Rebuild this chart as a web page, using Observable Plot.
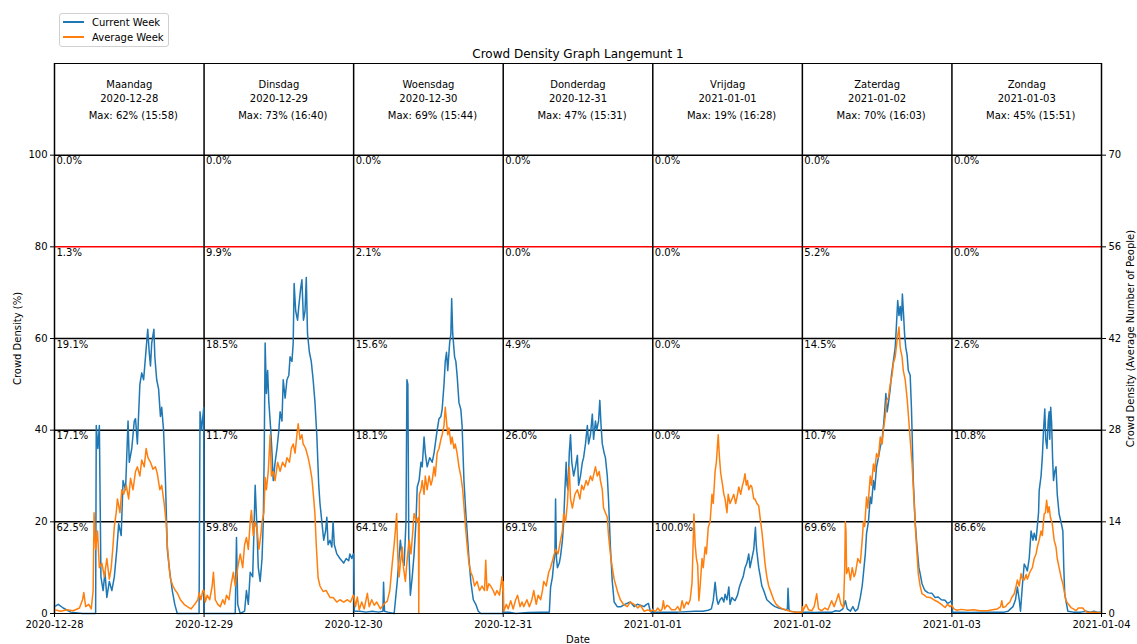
<!DOCTYPE html>
<html>
<head>
<meta charset="utf-8">
<script src="https://cdn.jsdelivr.net/npm/d3@7"></script>
<script src="https://cdn.jsdelivr.net/npm/@observablehq/plot@0.6"></script>
<style>
body{margin:0;background:#fff;font-family:"DejaVu Sans",sans-serif;}
#wrap{position:relative;width:1137px;height:644px;}
#legend{position:absolute;left:59px;top:13px;width:108px;height:32px;border:1px solid #d0d0d0;border-radius:3px;background:rgba(255,255,255,0.85);font-size:10px;color:#000;}
.item{position:absolute;left:3px;height:12px;display:flex;align-items:center;white-space:nowrap;}
.sw{width:21px;height:1.5px;margin-right:8px;}
</style>
</head>
<body>
<div id="wrap">
<div id="chart"></div>
<div id="legend">
<div class="item" style="top:2px"><div class="sw" style="background:#1f77b4"></div>Current Week</div>
<div class="item" style="top:17px"><div class="sw" style="background:#ff7f0e"></div>Average Week</div>
</div>
</div>
<script>
const title = "Crowd Density Graph Langemunt 1";
const dayNames = ["Maandag","Dinsdag","Woensdag","Donderdag","Vrijdag","Zaterdag","Zondag"];
const dateLabels = ["2020-12-28","2020-12-29","2020-12-30","2020-12-31","2021-01-01","2021-01-02","2021-01-03","2021-01-04"];
const maxPct = [62,73,69,47,19,70,45];
const maxTime = ["15:58","16:40","15:44","15:31","16:28","16:03","15:51"];
// share of time per band (band lower bound 100, 80, 60, 40, 20)
const share100 = [0.0,0.0,0.0,0.0,0.0,0.0,0.0];
const share80 = [1.3,9.9,2.1,0.0,0.0,5.2,0.0];
const share60 = [19.1,18.5,15.6,4.9,0.0,14.5,2.6];
const share40 = [17.1,11.7,18.1,26.0,0.0,10.7,10.8];
const share20 = [62.5,59.8,64.1,69.1,100.0,69.6,86.6];
const leftTicks = [0,20,40,60,80,100];
const rightTicks = [0,14,28,42,56,70];

// [hour of day, crowd density %]
const curMon = [[0,1.5],[0.6,2],[1.4,1.2],[2.6,0.3],[4.5,0],[6.6,0],[6.7,41],[6.95,36],[7.2,41],[7.45,8],[7.8,5],[8.1,9],[8.4,3.5],[8.8,7],[9.2,5],[9.6,8],[10.0,14],[10.3,19.6],[10.7,17],[11.0,29],[11.4,27],[11.8,42],[12.0,33],[12.4,36],[12.8,42],[13.0,42.5],[13.3,37],[13.7,50],[14.0,52.5],[14.3,51],[14.6,56],[14.96,62],[15.2,57],[15.4,54],[15.6,59],[15.95,62],[16.1,56],[16.4,51],[16.7,49],[17.0,43],[17.2,45],[17.5,40],[17.8,29],[18.1,14],[18.5,9],[18.9,5],[19.3,2],[19.7,0],[23.2,0],[23.35,44],[23.6,40],[23.95,45]];
const avgMon = [[0,0.8],[1,0.5],[2,0.8],[3,0.6],[4,1.2],[4.5,3],[4.7,4.6],[5.0,1.5],[5.5,2],[5.9,1],[6.2,5],[6.35,22],[6.6,14],[6.9,18],[7.2,10],[7.6,11],[8.0,8],[8.4,12],[8.8,7.5],[9.1,10],[9.4,15],[9.6,19],[9.9,22],[10.1,25],[10.5,22],[10.8,27],[11.1,26],[11.5,28],[11.9,25],[12.2,29.5],[12.6,27],[13.0,31],[13.3,32],[13.7,30],[14.0,33.5],[14.4,32],[14.7,36],[15.0,34],[15.4,33],[15.8,31.5],[16.2,32],[16.5,30.5],[16.9,27],[17.2,28],[17.6,24],[17.9,20],[18.1,15],[18.4,10],[18.6,7.6],[19.0,6],[19.4,5],[19.7,4.5],[20.2,3],[20.8,2],[21.3,1.5],[21.9,1],[22.5,2],[23.0,3],[23.2,4.5],[23.5,3],[23.8,5]];

const curTue = [[0,0],[1,0],[3,0],[5.0,0],[5.2,16.6],[5.4,2],[5.8,0],[6.5,0.5],[6.8,5],[7.1,2],[7.4,9],[7.8,8],[8.2,28],[8.5,18],[8.7,10],[9.0,7],[9.3,12],[9.5,20],[9.65,35],[9.8,59],[10.0,48],[10.2,53],[10.4,46],[10.7,40],[10.9,35],[11.1,29],[11.4,33],[11.7,36],[12.0,40],[12.2,44],[12.5,42],[12.7,51],[13.0,47],[13.3,51],[13.6,52],[13.8,56],[14.1,55],[14.3,59],[14.45,72],[14.7,66],[15.0,64],[15.2,67],[15.5,71],[15.7,72.8],[15.95,64],[16.2,66],[16.4,73.3],[16.6,61],[16.9,57],[17.2,55],[17.5,51],[17.8,46],[18.1,38.6],[18.4,28],[18.6,24],[18.9,20],[19.2,16],[19.5,18],[19.7,21],[19.9,15],[20.2,16],[20.5,14.5],[20.7,20],[20.9,15],[21.3,13],[21.8,12],[22.4,11],[22.8,12],[23.2,11.5],[23.4,13],[23.7,12],[23.95,13]];
const avgTue = [[0,5],[0.2,2.5],[0.5,4],[0.9,3],[1.3,6],[1.5,9],[1.8,3],[2.2,2],[2.6,1.5],[3.0,3],[3.3,2],[3.6,4],[4.0,3],[4.3,6],[4.7,9],[5.0,6],[5.4,10],[5.8,13],[6.2,10],[6.5,15],[6.8,16.6],[7.1,14],[7.4,20],[7.6,22.5],[7.9,17],[8.2,20],[8.5,18.5],[8.8,14],[9.1,17],[9.3,20],[9.6,22],[9.8,29.7],[10.0,27],[10.3,31],[10.6,39],[10.8,30],[11.1,31],[11.4,29],[11.8,33],[12.2,31],[12.6,33],[13.0,32],[13.3,34],[13.7,33],[14.0,36],[14.3,37],[14.6,35],[14.9,39],[15.1,41.4],[15.4,38],[15.7,39],[15.9,37],[16.3,36],[16.7,34],[17.0,32],[17.3,29.5],[17.6,25],[17.8,21.5],[18.0,15],[18.3,7.8],[18.6,6],[19.1,4.8],[19.6,5],[20.2,3.5],[20.7,3.5],[21.3,2.5],[21.8,3],[22.4,2.5],[23.0,3],[23.5,2.5],[23.95,4]];

const curWed = [[0,13],[0.1,0.5],[1,0.5],[2,0.3],[3,0.5],[4,0.3],[4.7,0.5],[4.8,6.8],[4.95,0.5],[5.5,0.3],[6.5,0],[7.0,7],[7.5,16],[7.8,12],[8.1,10.5],[8.4,20],[8.55,51],[8.7,50],[8.85,15],[9.1,4],[9.4,8],[9.7,13],[10.0,20],[10.2,27.6],[10.5,29],[10.8,33],[11.0,32],[11.3,38.5],[11.5,35],[11.8,32],[12.2,34],[12.6,33],[12.9,35],[13.1,37],[13.4,40],[13.7,42.5],[14.0,43],[14.2,44.5],[14.5,50],[14.7,55],[14.9,57],[15.1,53],[15.4,59],[15.6,61],[15.73,68.7],[15.9,61],[16.2,56],[16.4,55],[16.6,52],[16.9,46],[17.2,44.5],[17.4,41],[17.7,29],[18.0,22],[18.2,18],[18.5,12],[18.8,7],[19.2,3],[19.6,2],[20.0,0.5],[20.4,0],[22,0],[23.95,0]];
const avgWed = [[0,4],[0.3,1.5],[0.6,3.6],[0.9,0.8],[1.3,2.5],[1.7,1],[2.2,4.4],[2.5,1.5],[2.9,3],[3.3,1.8],[3.7,2.5],[4.3,1],[4.8,2],[5.4,2.7],[5.8,5],[6.0,8],[6.2,11],[6.5,15],[6.75,19],[6.9,21.8],[7.1,12],[7.3,8],[7.5,11],[7.8,14.5],[8.0,10],[8.3,7],[8.6,12],[8.9,16],[9.2,13],[9.5,18],[9.7,21.8],[10.1,20],[10.4,21],[10.45,0],[10.55,26],[10.8,27],[11.0,29],[11.3,26],[11.5,30],[11.8,27],[12.1,30],[12.4,28],[12.6,29],[12.9,32],[13.1,30],[13.4,35],[13.7,36],[14.0,38],[14.2,39],[14.5,41],[14.7,45],[14.9,42],[15.1,39],[15.3,40.5],[15.6,37],[15.8,38.5],[16.1,36],[16.3,37],[16.6,35],[16.9,32],[17.2,30],[17.5,27],[17.7,23.5],[18.0,18],[18.2,15],[18.5,11],[18.8,9],[19.1,8],[19.4,6],[19.8,7],[20.2,5],[20.6,6],[21.0,5],[21.2,11.6],[21.4,5],[21.7,6.5],[22.0,6],[22.4,5],[22.7,4],[23.0,5],[23.4,4],[23.6,6],[23.8,8],[23.95,5]];

const curThu = [[0,0.3],[1,0.3],[2,0],[4,0.2],[6,0.3],[7.4,0.3],[7.6,5.7],[7.9,8],[8.1,11],[8.3,13],[8.4,25],[8.55,12],[8.7,10],[9.0,11],[9.2,12.5],[9.5,16],[9.7,20],[9.9,27],[10.1,33],[10.25,28],[10.4,27],[10.6,35],[10.8,39],[11.0,33],[11.3,30],[11.6,32],[11.9,34.5],[12.1,28],[12.4,30],[12.7,33],[12.9,34],[13.2,37],[13.5,41],[13.7,37],[14.0,39],[14.3,43.5],[14.5,38],[14.8,42],[15.0,40],[15.3,42],[15.5,46.5],[15.7,41],[15.9,37],[16.2,35],[16.4,34],[16.7,30],[16.9,24.8],[17.2,14.5],[17.5,7],[17.8,2.5],[18.3,1.5],[18.9,1.5],[19.5,2],[20.4,2.5],[21.0,1.5],[21.5,2],[22,1.8],[22.6,1.5],[23.0,2],[23.3,2.2],[23.6,0.5],[23.95,0]];
const avgThu = [[0,7],[0.1,0.5],[0.5,2],[0.8,1],[1.2,2.8],[1.6,1],[2.0,3],[2.3,4],[2.7,1.5],[3.0,2.5],[3.3,1.5],[3.8,3],[4.2,1.5],[4.6,3],[4.9,5],[5.3,2],[5.6,4],[6.0,3],[6.3,5],[6.5,7],[6.9,6],[7.3,9],[7.6,10],[8.0,12],[8.4,14],[8.8,13],[9.2,16],[9.5,18],[9.7,21.8],[10.0,20],[10.3,24],[10.6,32],[10.8,25],[11.1,23],[11.5,26],[11.9,27],[12.3,25],[12.6,28],[12.9,27],[13.3,29],[13.6,28],[14.0,30],[14.3,29],[14.8,32],[15.1,30],[15.4,31],[15.6,29],[15.9,27],[16.1,23],[16.4,22],[16.7,21],[16.9,17],[17.2,13],[17.5,10],[17.8,7.5],[18.0,6.5],[18.4,4.5],[18.8,3],[19.3,2],[19.9,1.5],[20.4,2.5],[21.0,2],[21.6,1.2],[22.0,1.8],[22.6,0.5],[23.2,0.8],[23.7,0.5],[23.95,0.8]];

const curFri = [[0,1],[0.2,0.3],[2,0.3],[4,0.3],[6.8,0.5],[8.0,0.5],[8.9,0.7],[9.4,1],[9.7,2.8],[10.0,6.8],[10.3,3],[10.5,2],[10.8,3],[11.1,3.5],[11.4,2.5],[11.6,4.2],[11.9,3],[12.2,5.8],[12.4,2],[12.7,3.5],[13.0,3],[13.2,2.8],[13.6,4],[13.9,5.8],[14.2,7],[14.5,8],[14.8,10],[15.1,11],[15.4,13],[15.6,10],[15.9,12],[16.2,14],[16.47,18.8],[16.6,15],[16.7,13.5],[17.0,10],[17.2,8.5],[17.5,6],[17.8,5],[18.3,3],[18.7,2.5],[19.1,2],[19.6,1.5],[20.2,1.2],[20.8,1],[21.3,0.8],[21.6,1],[21.7,5.5],[21.85,1],[22.0,0.5],[23.0,0.3],[23.95,0.3]];
const avgFri = [[0,0.8],[0.4,0.4],[0.8,1.2],[1.2,0.5],[1.5,1],[1.7,2.8],[1.9,1],[2.3,1.8],[2.6,1.5],[3.0,0.8],[3.6,0.8],[4.0,1.5],[4.4,0.5],[4.7,2.8],[5.0,1.2],[5.4,2.5],[5.7,2],[6.0,3],[6.3,6.8],[6.45,14],[6.6,21.7],[6.8,15],[7.0,12],[7.2,10.6],[7.4,2.8],[7.6,6],[7.9,12],[8.1,10],[8.4,14.5],[8.6,13],[8.9,18.8],[9.2,20],[9.5,26],[9.7,24],[10.0,31],[10.2,33],[10.4,37],[10.5,39],[10.7,34],[10.9,30.6],[11.2,28],[11.4,26],[11.6,25],[11.9,22],[12.1,26],[12.4,24],[12.7,25],[13.0,26],[13.3,24],[13.6,26],[13.8,27.6],[14.1,26],[14.4,28],[14.6,29],[14.8,30.5],[15.0,28],[15.2,29],[15.4,27],[15.7,28],[15.9,27.6],[16.2,25],[16.4,25],[16.7,24],[17.0,23.5],[17.3,20],[17.5,18],[17.8,14],[18.0,11],[18.3,8],[18.6,6],[19.0,4.5],[19.4,3],[19.8,2],[20.2,1.5],[20.8,1],[21.3,0.8],[22.0,0.5],[22.9,0.3],[23.95,0.3]];

const curSat = [[0,0.3],[1,0.3],[2,0.2],[3,0.3],[4.8,0.3],[5.3,0.6],[6.0,0.5],[6.5,1],[6.9,2.8],[7.2,1],[7.7,0.5],[8.1,1.5],[8.5,0.5],[8.9,1],[9.3,3.5],[9.6,6],[9.8,8.7],[10.1,13],[10.3,17.5],[10.6,20],[10.9,25.4],[11.1,24],[11.4,29],[11.6,27],[11.9,32],[12.2,34],[12.5,36.3],[12.8,38],[13.0,40.7],[13.2,44],[13.4,48],[13.6,44],[13.8,45.8],[14.1,49],[14.3,52],[14.6,55],[14.9,58],[15.1,63],[15.3,68.3],[15.5,65],[15.7,67],[15.9,64],[16.05,69.7],[16.25,65],[16.4,61],[16.6,58],[16.8,56.5],[17.0,53],[17.3,52],[17.5,45],[17.6,40],[17.8,29],[18.1,20],[18.4,14.5],[18.7,10],[18.9,8.7],[19.2,6.5],[19.5,5.5],[19.7,5],[20.2,4.5],[20.8,4.4],[21.3,3.5],[21.8,3.6],[22.3,3],[22.9,2.9],[23.3,2.2],[23.7,2.5],[23.95,2.8]];
const avgSat = [[0,1.5],[0.1,0.6],[0.6,2],[1.0,0.8],[1.5,0.6],[1.9,1.5],[2.3,4.3],[2.6,1],[3.1,0.6],[3.6,1.2],[4.1,0.8],[4.7,2.8],[5.1,1.5],[5.5,3],[5.8,4.3],[6.2,2],[6.6,1.3],[6.8,10],[6.9,20],[7.0,18],[7.1,8.7],[7.4,10],[7.7,7.3],[8.0,10],[8.3,8],[8.5,8.7],[8.9,12],[9.3,11],[9.6,16],[9.8,20],[10.0,19],[10.3,25.4],[10.5,23],[10.9,30],[11.1,28],[11.4,32.6],[11.6,31],[11.9,34.9],[12.2,34],[12.5,38.5],[12.8,37],[13.0,40],[13.3,43],[13.5,46.5],[13.8,47],[14.1,50],[14.4,52],[14.6,54.6],[14.9,56],[15.2,59.6],[15.5,62.5],[15.7,58],[16.0,56],[16.2,53],[16.5,51],[16.8,47],[17.0,43.6],[17.3,38],[17.6,32.7],[17.9,25],[18.1,19.6],[18.4,13],[18.6,8.7],[18.9,6],[19.2,4.3],[19.6,4],[19.9,3.6],[20.5,3.5],[21.2,2.9],[21.8,2.5],[22.3,2],[22.9,1.3],[23.3,2],[23.7,1.5],[23.95,1.8]];

const curSun = [[0,2.8],[0.1,0.3],[1,0.3],[3,0.2],[5,0.3],[7,0.3],[8.4,0.3],[9.0,0.5],[9.4,1],[9.8,1.5],[10.2,3],[10.5,5.8],[10.8,3],[11.0,0.5],[11.3,6],[11.6,10.8],[11.9,10],[12.1,9.3],[12.4,12],[12.7,18],[13.0,16],[13.2,17.5],[13.5,16],[13.7,19],[13.9,22],[14.0,26.8],[14.3,30],[14.5,34],[14.7,40],[14.9,44.6],[15.05,38],[15.25,36],[15.45,42],[15.6,44],[15.7,38],[15.85,45],[16.0,41.5],[16.15,34],[16.3,29],[16.5,31],[16.7,32],[16.9,26],[17.2,21.7],[17.5,20],[17.8,18],[17.95,10],[18.1,4.3],[18.4,2],[18.6,0.5],[19.5,0.3],[20.7,0.3],[21.5,0.5],[22.2,0.3],[22.8,0.5],[23.3,0.3],[23.95,0.3]];
const avgSun = [[0,1.8],[0.3,1],[0.8,0.7],[1.5,0.9],[2.5,0.7],[3.5,0.8],[4.5,0.6],[5.7,0.6],[6.5,0.8],[7.3,1],[7.8,1.5],[8.0,2.8],[8.2,1.3],[8.6,1.5],[8.9,2],[9.3,2.5],[9.6,3.5],[10.0,4.3],[10.3,6],[10.5,7.3],[10.8,6],[11.1,8.7],[11.3,7.5],[11.6,7.3],[11.9,8.5],[12.1,7.5],[12.5,9],[12.9,10],[13.2,12],[13.5,13],[13.7,14.5],[14.0,16],[14.3,18],[14.5,17],[14.8,21.7],[15.0,22],[15.2,24.7],[15.4,22],[15.6,23.3],[15.8,21],[16.1,19.6],[16.4,16],[16.7,14.5],[16.9,12],[17.2,10],[17.5,8],[17.8,6.5],[18.0,5],[18.3,2.8],[18.7,2],[19.1,1.3],[19.5,1],[19.9,0.6],[20.3,1.2],[21.0,1.2],[21.4,0.5],[21.8,0.2],[22.5,0.3],[23.4,0.2],[23.95,0.2]];

const currentWeek = [curMon,curTue,curWed,curThu,curFri,curSat,curSun];
const averageWeek = [avgMon,avgTue,avgWed,avgThu,avgFri,avgSat,avgSun];

const toRows = (days) => days.flatMap((arr, d) => arr.map(([h, v]) => ({t: d * 24 + h, v})));
const curRows = toRows(currentWeek);
const avgRows = toRows(averageWeek);
const dayTicks = dateLabels.map((_, i) => i * 24);
const dayInfo = dayNames.map((n, i) => ({x: i * 24 + 12, name: n, date: dateLabels[i], max: `Max: ${maxPct[i]}% (${maxTime[i]})`}));
const bandRows = [];
[[100, share100], [80, share80], [60, share60], [40, share40], [20, share20]].forEach(([y, arr]) => {
  arr.forEach((p, i) => bandRows.push({x: i * 24, y, label: p.toFixed(1) + "%"}));
});

const chart = Plot.plot({
  width: 1137, height: 644,
  marginTop: 63, marginBottom: 31, marginLeft: 54, marginRight: 36,
  x: {domain: [0, 168]},
  y: {domain: [0, 120]},
  style: {fontFamily: "DejaVu Sans", fontSize: "10px", background: "white", color: "black"},
  marks: [
    Plot.ruleY([20, 40, 60, 100], {stroke: "black", strokeWidth: 1.5}),
    Plot.ruleY([80], {stroke: "red", strokeWidth: 1.5}),
    Plot.ruleX(dayTicks, {stroke: "black", strokeWidth: 1.5}),
    Plot.line(curRows, {x: "t", y: "v", stroke: "#1f77b4", strokeWidth: 1.5}),
    Plot.line(avgRows, {x: "t", y: "v", stroke: "#ff7f0e", strokeWidth: 1.5}),
    Plot.frame({stroke: "black"}),
    Plot.text(bandRows, {x: "x", y: "y", text: "label", textAnchor: "start", lineAnchor: "top", dx: 2, dy: 2, fill: "black"}),
    Plot.text(dayInfo, {x: "x", text: "name", frameAnchor: "top", dy: 17.5, fill: "black"}),
    Plot.text(dayInfo, {x: "x", text: "date", frameAnchor: "top", dy: 31.5, fill: "black"}),
    Plot.text(dayInfo, {x: "x", text: "max", frameAnchor: "top", dy: 48.5, dx: 4, fill: "black"}),
    Plot.text([title], {frameAnchor: "top", dy: -14, fontSize: 12, fill: "black"}),
    Plot.axisX({ticks: dayTicks, tickFormat: d => dateLabels[Math.round(d / 24)], tickSize: 4, tickPadding: 3, label: "Date", labelAnchor: "center", labelArrow: "none", labelOffset: 29}),
    Plot.axisY({anchor: "left", ticks: leftTicks, tickFormat: d => d, tickSize: 4, tickPadding: 3, label: "Crowd Density (%)", labelAnchor: "center", labelArrow: "none", labelOffset: 41}),
    Plot.axisY({anchor: "right", ticks: rightTicks.map(r => r / 0.7), tickFormat: d => Math.round(d * 0.7), tickSize: 4, tickPadding: 3, label: "Crowd Density (Average Number of People)", labelAnchor: "center", labelArrow: "none", labelOffset: 32})
  ]
});
document.getElementById("chart").appendChild(chart);
</script>
</body>
</html>
